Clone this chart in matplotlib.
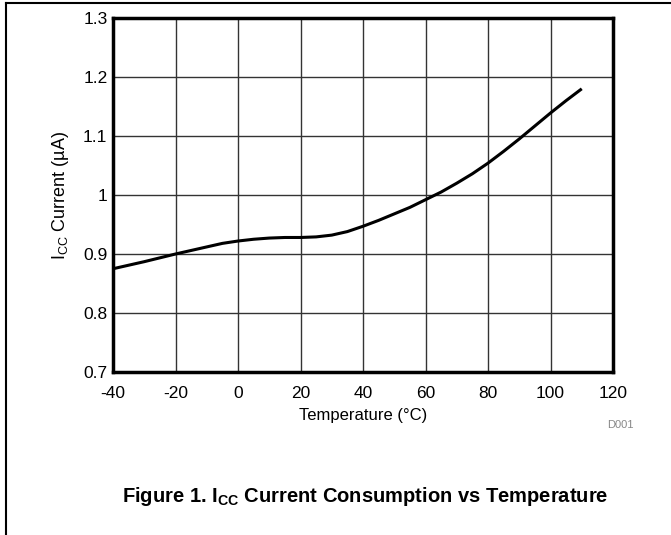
import matplotlib
matplotlib.use("Agg")
import matplotlib.pyplot as plt
from matplotlib.lines import Line2D

plt.rcParams['font.family'] = ['Liberation Sans', 'DejaVu Sans']
plt.rcParams['mathtext.fontset'] = 'custom'
plt.rcParams['mathtext.rm'] = 'Liberation Sans'
plt.rcParams['mathtext.bf'] = 'Liberation Sans:bold'
plt.rcParams['axes.unicode_minus'] = False

# values
temps = [-40, -30, -20, -10, -5, 0, 5, 10, 15, 20, 25, 30, 35, 40, 45, 50,
         55, 60, 65, 70, 75, 80, 85, 90, 95, 100, 105, 110]
icc = [0.875, 0.887, 0.900, 0.912, 0.918, 0.922, 0.925, 0.927, 0.928, 0.928,
       0.929, 0.932, 0.938, 0.947, 0.957, 0.968, 0.979, 0.992, 1.005, 1.020,
       1.036, 1.054, 1.074, 1.095, 1.117, 1.139, 1.160, 1.180]

xticks = [-40, -20, 0, 20, 40, 60, 80, 100, 120]
yticks = [0.7, 0.8, 0.9, 1.0, 1.1, 1.2, 1.3]
ylabels = ['0.7', '0.8', '0.9', '1', '1.1', '1.2', '1.3']

fig = plt.figure(figsize=(6.71, 5.35), dpi=100)
ax = fig.add_axes([113 / 671, 1 - 372 / 535, 500 / 671, 354 / 535])

ax.plot(temps, icc, color='black', lw=2.2, solid_capstyle='butt')

ax.set_xlim(-40, 120)
ax.set_ylim(0.7, 1.3)
ax.set_xticks(xticks)
ax.set_yticks(yticks)
ax.set_yticklabels(ylabels)
ax.tick_params(length=0, labelsize=12.5)
ax.tick_params(axis='x', pad=10)
ax.tick_params(axis='y', pad=4)
ax.grid(True, color='#333333', lw=1)
for s in ax.spines.values():
    s.set_linewidth(2.5)

ax.set_xlabel('Temperature (°C)', fontsize=12, labelpad=5)
ax.set_ylabel(r'I$_{\mathregular{CC}}$ Current (µA)', fontsize=13, labelpad=9)

fig.text(620 / 671, 1 - 425 / 535, 'D001', fontsize=8, color='#888888',
         ha='center', va='center')
fig.text(365 / 671, 1 - 497 / 535,
         r'Figure 1. I$_{\mathbf{CC}}$ Current Consumption vs Temperature',
         fontsize=14.5, fontweight='bold', ha='center', va='center')

# page frame (top and left edges only)
fig.add_artist(Line2D([6 / 671, 1.0], [1 - 3 / 535, 1 - 3 / 535],
                      transform=fig.transFigure, color='black', lw=1.5))
fig.add_artist(Line2D([6 / 671, 6 / 671], [0.0, 1 - 3 / 535],
                      transform=fig.transFigure, color='black', lw=1.5))

fig.savefig('out.png', dpi=100)
